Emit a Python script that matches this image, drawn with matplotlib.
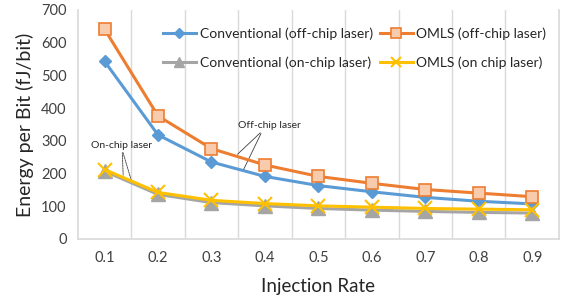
import matplotlib
matplotlib.use("Agg")
import matplotlib.pyplot as plt

# data
rates = ["0.1", "0.2", "0.3", "0.4", "0.5", "0.6", "0.7", "0.8", "0.9"]
conv_off = [543, 318, 235, 191, 163, 144, 127, 115, 107]
omls_off = [641, 376, 276, 226, 191, 170, 151, 140, 129]
conv_on = [207, 136, 111, 101, 93, 88, 84, 81, 79]
omls_on = [212, 142, 118, 108, 101, 97, 93, 91, 89]

plt.rcParams['font.family'] = ['Lato', 'DejaVu Sans']

fig = plt.figure(figsize=(5.64, 3.02), dpi=100)
ax = fig.add_axes([0.138, 0.209, 0.853, 0.758])

x = list(range(len(rates)))
l1, = ax.plot(x, conv_off, color="#5B9BD5", lw=2.2, marker="D", ms=6.5,
              mfc="#5B9BD5", mec="#5B9BD5", label="Conventional (off-chip laser)", zorder=3)
l2, = ax.plot(x, omls_off, color="#ED7D31", lw=2.2, marker="s", ms=8.5,
              mfc="#F8CBAD", mec="#ED7D31", mew=1.2, label="OMLS (off-chip laser)", zorder=4)
l3, = ax.plot(x, conv_on, color="#A5A5A5", lw=2.2, marker="^", ms=9.5,
              mfc="#A5A5A5", mec="#A5A5A5", label="Conventional (on-chip laser)", zorder=3)
l4, = ax.plot(x, omls_on, color="#FFC000", lw=2.2, marker="x", ms=9.5, mew=1.5,
              mec="#FFC000", label="OMLS (on chip laser)", zorder=4)

ax.set_xlim(-0.5, len(rates) - 0.5)
ax.set_ylim(0, 700)
ax.set_yticks(range(0, 701, 100))
ax.set_xticks(x)
ax.set_xticklabels(rates)
ax.tick_params(length=0, labelsize=10.5, colors="#404040", pad=9)
ax.tick_params(axis="y", pad=8)

# vertical gridlines between categories
for b in [i + 0.5 for i in x[:-1]]:
    ax.axvline(b, color="#D9D9D9", lw=1, zorder=0)
for side in ["left", "bottom", "right"]:
    ax.spines[side].set_color("#D9D9D9")
    ax.spines[side].set_linewidth(1.2)
ax.spines["top"].set_visible(False)

ax.set_xlabel("Injection Rate", fontsize=13.5, color="#262626", labelpad=9)
ax.set_ylabel("Energy per Bit (fJ/bit)", fontsize=14, color="#262626", labelpad=5)

# annotations
ax.text(2.5, 348, "Off-chip laser", fontsize=7.5, color="#262626", ha="left", va="center")
ax.annotate("", xy=(2.45, 253), xytext=(2.95, 330),
            arrowprops=dict(arrowstyle="-", color="#404040", lw=0.6))
ax.annotate("", xy=(2.58, 205), xytext=(2.95, 330),
            arrowprops=dict(arrowstyle="-", color="#404040", lw=0.6))
ax.text(-0.25, 287, "On-chip laser", fontsize=7.5, color="#262626", ha="left", va="center")
ax.annotate("", xy=(0.35, 186), xytext=(0.33, 272),
            arrowprops=dict(arrowstyle="-", color="#404040", lw=0.6, ls=(0, (2, 1))))
ax.annotate("", xy=(0.52, 168), xytext=(0.33, 272),
            arrowprops=dict(arrowstyle="-", color="#404040", lw=0.6, ls=(0, (2, 1))))

# column-wise fill: off-chip row first, on-chip row second
leg = ax.legend([l1, l3, l2, l4], [l1.get_label(), l3.get_label(), l2.get_label(), l4.get_label()],
                ncol=2, loc="upper left", bbox_to_anchor=(0.165, 0.95),
                frameon=False, fontsize=10, handlelength=2.4, handletextpad=0.25,
                columnspacing=0.5, labelspacing=1.2, borderaxespad=0, markerscale=0.8)
for t in leg.get_texts():
    t.set_color("#262626")

fig.savefig("out.png", dpi=100)
